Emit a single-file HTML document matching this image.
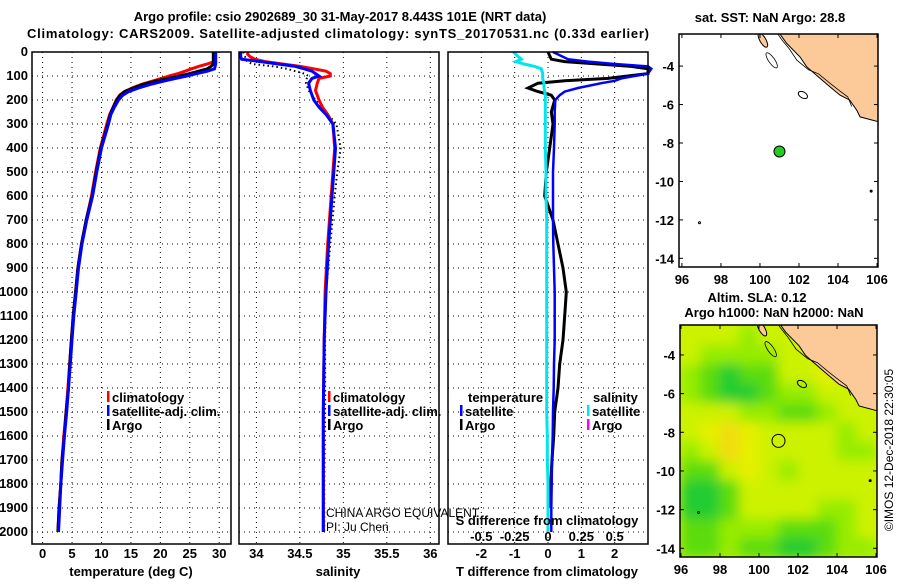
<!DOCTYPE html>
<html><head><meta charset="utf-8"><style>
body{margin:0;background:#fff}
svg text{font-family:"Liberation Sans",sans-serif;font-weight:bold;font-size:13px;fill:#000}
</style></head><body>
<svg id="c" width="900" height="580" viewBox="0 0 900 580" xmlns="http://www.w3.org/2000/svg">
<rect width="900" height="580" fill="#fff"/>
<text x="340" y="21" text-anchor="middle" font-size="14">Argo profile: csio 2902689_30 31-May-2017 8.443S 101E (NRT data)</text>
<text x="338" y="38" text-anchor="middle" font-size="14" textLength="622">Climatology: CARS2009. Satellite-adjusted climatology: synTS_20170531.nc (0.33d earlier)</text>
<g id="g"></g>
</svg>
<script>
// ---------- data ----------
const depthTicks=[0,100,200,300,400,500,600,700,800,900,1000,1100,1200,1300,1400,1500,1600,1700,1800,1900,2000];
const tempTicks=[0,5,10,15,20,25,30];
const salTicks=[34,34.5,35,35.5,36];
const salTickLabels=["34","34.5","35","35.5","36"];
const tdTicks=[-2,-1,0,1,2];
const sdTickLabels=["-0.5","-0.25","0","0.25","0.5"];
const sdTicks=[-0.5,-0.25,0,0.25,0.5];
const lonTicks=[96,98,100,102,104,106];
const latTicks=[-4,-6,-8,-10,-12,-14];

const tDepth=[0,40,50,60,70,80,90,100,110,120,135,150,165,180,200,230,260,300,400,500,600,700,800,900,1000,1100,1200,1300,1400,1500,1600,1700,1800,1900,2000];
const tArgo=[29,29,29,28.6,28,26.5,25,23.3,21.4,19.4,17,15.4,14,13.2,12.6,12,11.5,11.1,9.9,9.1,8.4,7.4,6.6,6.0,5.6,5.2,4.9,4.6,4.4,4.0,3.7,3.3,3.1,2.8,2.6];
const tClim=[29.1,29.1,28,26.5,25.3,24.2,23,21.5,20.2,18.8,16.8,15.2,13.9,13.1,12.5,12.0,11.4,10.9,9.8,9.0,8.3,7.4,6.6,6.0,5.6,5.2,4.9,4.6,4.3,4.0,3.6,3.3,3.1,2.8,2.6];
const tSat=[29.4,29.4,29.4,29.3,29.2,28,26.2,24.5,22.6,20.8,18.3,16.3,14.6,13.6,12.9,12.2,11.6,11.2,10.0,9.2,8.5,7.5,6.7,6.1,5.7,5.3,5.0,4.7,4.4,4.1,3.7,3.4,3.1,2.9,2.7];

const sDepth=[0,10,20,30,40,50,60,70,80,90,100,110,130,160,200,230,260,300,400,500,600,800,1000,1200,1500,1800,2000];
const sArgo=[33.85,33.86,33.87,33.87,33.9,33.95,34.2,34.35,34.45,34.55,34.6,34.58,34.57,34.6,34.68,34.75,34.82,34.92,34.97,34.93,34.9,34.85,34.8,34.79,34.79,34.78,34.78];
const sClim=[33.9,33.9,33.93,33.98,34.1,34.3,34.5,34.66,34.8,34.85,34.85,34.72,34.7,34.68,34.72,34.76,34.82,34.88,34.9,34.88,34.86,34.82,34.79,34.78,34.77,34.77,34.77];
const sSat=[33.82,33.82,33.82,33.83,34.05,34.25,34.45,34.55,34.64,34.68,34.72,34.64,34.6,34.62,34.66,34.72,34.8,34.88,34.91,34.89,34.87,34.83,34.8,34.78,34.77,34.77,34.77];

const dDepth=[0,30,40,50,60,70,90,110,120,130,150,165,180,200,250,300,400,500,600,700,800,900,1000,1100,1200,1300,1400,1500,1600,1700,1800,1900,2000];
const dTArgo=[0,0.1,0.5,1.5,2.5,3,3,1.8,0.5,-0.3,-0.6,-0.3,0.1,0.2,0.1,0.15,0.05,-0.05,-0.1,0.15,0.3,0.45,0.55,0.5,0.45,0.35,0.3,0.2,0.17,0.12,0.08,0.05,null];
const dTSat=[0.15,0.6,1.2,2,3,3.1,3,2.2,2,1.6,0.9,0.5,0.35,0.22,0.2,0.2,0.18,0.15,0.15,0.15,0.16,0.18,0.2,0.2,0.2,0.18,0.17,0.15,0.14,0.12,0.11,0.1,0.1];
const dSSat=[-0.26,-0.2,-0.24,-0.18,-0.1,-0.05,-0.04,-0.04,-0.035,-0.03,-0.03,-0.025,-0.02,-0.02,-0.02,-0.02,-0.02,-0.015,-0.015,-0.01,-0.01,-0.01,-0.01,-0.01,-0.01,-0.01,-0.01,-0.01,-0.005,-0.005,0,0,0];

const coastLon=[101.0,101.37,102.05,102.39,103.08,103.59,104.1,104.6,104.96,105.13,106.1,106.1];
const coastLat=[-2.3,-2.82,-3.52,-4.03,-4.64,-5.08,-5.51,-5.77,-6.29,-6.64,-6.9,-2.3];
const contourLon=[100.9,101.1,101.5,101.9,102.5,103.0,103.6,104.1,104.5,104.7];
const contourLat=[-2.3,-2.6,-3.1,-3.7,-4.2,-4.4,-4.9,-5.3,-5.6,-6.1];
const argoLon=101, argoLat=-8.443;
const slaRows=[
[3,3,3,2,3,3,3,3,3,3],
[3,2,2,2,2,3,3,3,3,3],
[2,1,0,1,1,3,3,4,3,3],
[2,1,0,0,1,2,2,3,3,3],
[3,3,3,2,2,1,1,2,3,3],
[3,4,5,4,3,3,3,3,2,3],
[2,3,5,4,3,3,3,3,2,2],
[1,1,3,4,3,2,3,3,3,3],
[0,0,1,3,3,3,3,3,3,3],
[0,0,1,3,3,3,3,2,2,3],
[1,1,2,2,2,1,1,1,2,3],
[1,1,2,1,1,0,0,1,2,2]];
const slaColors=["#22cc33","#5cdc10","#96ec00","#ccf200","#e6f000","#f2dc10"];

// ---------- helpers ----------
const NS="http://www.w3.org/2000/svg";
const G=document.getElementById('g');
function el(tag,attrs,parent,txt){const e=document.createElementNS(NS,tag);for(const k in attrs)e.setAttribute(k,attrs[k]);if(txt!==undefined)e.textContent=txt;(parent||G).appendChild(e);return e;}
const Y0=52,PY=0.24;
const yD=d=>Y0+d*PY;
const panels=[
 {x0:32,x1:231,d0:-1.8,d1:32},
 {x0:239,x1:439,d0:33.8,d1:36.1},
 {x0:448,x1:648,d0:-3,d1:3}];
function sx(p,v){return p.x0+(v-p.d0)/(p.d1-p.d0)*(p.x1-p.x0);}
const YB=544;

function grid(p,xt,name){
  const g=el('g',{});
  
  
  xt.forEach(v=>el('line',{x1:sx(p,v),x2:sx(p,v),y1:Y0,y2:YB,stroke:'#000','stroke-width':1,'stroke-dasharray':'1,4'},g));
  depthTicks.forEach(d=>el('line',{x1:p.x0,x2:p.x1,y1:yD(d),y2:yD(d),stroke:'#000','stroke-width':1,'stroke-dasharray':'1,4'},g));
}
function frame(p,name){
  const r=el('rect',{x:p.x0,y:Y0,width:p.x1-p.x0,height:YB-Y0,fill:'none',stroke:'#000','stroke-width':1.5});
  
  
}
function line(p,vals,depths,color,w,name,dash){
  let pts=[];
  vals.forEach((v,i)=>{if(v!==null)pts.push(sx(p,v).toFixed(1)+','+yD(depths[i]).toFixed(1));});
  const a={points:pts.join(' '),fill:'none',stroke:color,'stroke-width':w,'stroke-linejoin':'miter'};
  if(dash)a['stroke-dasharray']=dash;
  const e=el('polyline',a);
  
  
}
function txt(x,y,s,opt,name){const a=Object.assign({x:x,y:y},opt||{});const e=el('text',a,G,s);return e;}

grid(panels[0],tempTicks,'temperature');
grid(panels[1],salTicks,'salinity');
grid(panels[2],tdTicks,'difference');
depthTicks.forEach(d=>{
  const t=txt(28,yD(d)+4,String(d),{'text-anchor':'end','font-size':12},'depth-tick-label');
});
line(panels[0],tClim,tDepth,'#ff0000',3,'temperature-climatology-line');
line(panels[0],tArgo,tDepth,'#000',3,'temperature-argo-line');
line(panels[0],tSat,tDepth,'#0000ff',3,'temperature-satellite-line');
tempTicks.forEach(v=>txt(sx(panels[0],v),558,String(v),{'text-anchor':'middle','font-size':12},'temperature-tick-label'));
txt(131,576,'temperature (deg C)',{'text-anchor':'middle'},'temperature-axis-title');
line(panels[1],sArgo,sDepth,'#000',2,'salinity-argo-line','1.5,3');
line(panels[1],sClim,sDepth,'#ff0000',3,'salinity-climatology-line');
line(panels[1],sSat,sDepth,'#0000ff',3,'salinity-satellite-line');
salTicks.forEach((v,i)=>txt(sx(panels[1],v),558,salTickLabels[i],{'text-anchor':'middle','font-size':12},'salinity-tick-label'));
txt(338,576,'salinity',{'text-anchor':'middle'},'salinity-axis-title');
const sToT=v=>v===null?null:v*4;
line(panels[2],dTArgo,dDepth,'#000',3,'temperature-diff-argo-line');
line(panels[2],dTSat,dDepth,'#0000ff',2.5,'temperature-diff-satellite-line');
line(panels[2],dSSat.map(sToT),dDepth,'#00e5ee',3,'salinity-diff-satellite-line');
tdTicks.forEach(v=>txt(sx(panels[2],v),558,String(v),{'text-anchor':'middle','font-size':12},'t-diff-tick-label'));
sdTicks.forEach((v,i)=>txt(sx(panels[2],v*4),541,sdTickLabels[i],{'text-anchor':'middle','font-size':12},'s-diff-tick-label'));
txt(547,525,'S difference from climatology',{'text-anchor':'middle'},'s-diff-axis-title');
txt(547,576,'T difference from climatology',{'text-anchor':'middle'},'t-diff-axis-title');
frame(panels[0],'temperature');frame(panels[1],'salinity');frame(panels[2],'difference');

function leg(x,y,c,s,name){
  const r=el('rect',{x:x,y:y-11,width:2.5,height:11,fill:c});
  
  
  txt(x+5,y,s,{},name);
}
leg(107,402,'#ff0000','climatology','legend-climatology');
leg(107,416,'#0000ff','satellite-adj. clim.','legend-satellite-adj');
leg(107,430,'#000','Argo','legend-argo');
leg(328,402,'#ff0000','climatology','legend-s-climatology');
leg(328,416,'#0000ff','satellite-adj. clim.','legend-s-satellite-adj');
leg(328,430,'#000','Argo','legend-s-argo');
txt(468,402,'temperature',{},'legend-temperature-heading');
leg(460,416,'#0000ff','satellite','legend-t-satellite');
leg(460,430,'#000','Argo','legend-t-argo');
txt(593,402,'salinity',{},'legend-salinity-heading');
leg(587,416,'#00e5ee','satellite','legend-s-satellite');
leg(587,430,'#ff00ff','Argo','legend-s-argo-diff');
txt(326,517,'CHINA ARGO EQUIVALENT',{style:'font-weight:normal;font-size:12px'},'data-centre-label');
txt(326,531,'PI: Ju Chen',{style:'font-weight:normal;font-size:12px'},'pi-label');

function map(m,name,sla){
  const mx=lon=>m.x0+(lon-m.l0)/(m.l1-m.l0)*(m.x1-m.x0);
  const my=lat=>m.y0+(m.t0-lat)/(m.t0-m.t1)*(m.y1-m.y0);
  const g=el('g',{});
  
  
  const cid='clip'+name;
  const cp=el('clipPath',{id:cid},g);el('rect',{x:m.x0,y:m.y0,width:m.x1-m.x0,height:m.y1-m.y0},cp);
  const inner=el('g',{'clip-path':'url(#'+cid+')'},g);
  if(sla){
    el('rect',{x:m.x0,y:m.y0,width:m.x1-m.x0,height:m.y1-m.y0,fill:slaColors[3]},inner);
    const f=el('filter',{id:'blur'+name,x:'-10%',y:'-10%',width:'120%',height:'120%'},g);
    el('feGaussianBlur',{stdDeviation:6},f);
    const hg=el('g',{filter:'url(#blur'+name+')'},inner);
    slaRows.forEach((row,r)=>row.forEach((v,c)=>{
      const lat=-2.5-r, lon=96+c;
      const cell=el('rect',{x:mx(lon)-0.5,y:my(lat)-0.5,width:mx(lon+1)-mx(lon)+1,height:my(lat-1)-my(lat)+1,fill:slaColors[v]},hg);
      
      
    }));
  }
  const land=el('polygon',{points:coastLon.map((l,i)=>mx(l).toFixed(1)+','+my(coastLat[i]).toFixed(1)).join(' '),fill:'#fcc998',stroke:'#000','stroke-width':1},inner);
  
  
  const ct=el('polyline',{points:contourLon.map((l,i)=>mx(l).toFixed(1)+','+my(contourLat[i]).toFixed(1)).join(' '),fill:'none',stroke:'#000','stroke-width':0.8},inner);
  
  
  el('ellipse',{cx:mx(100.15),cy:my(-2.65),rx:3,ry:8,transform:`rotate(-30 ${mx(100.15)} ${my(-2.65)})`,fill:'#fcc998',stroke:'#000','stroke-width':1},inner);
  el('ellipse',{cx:mx(100.6),cy:my(-3.7),rx:3,ry:9,transform:`rotate(-35 ${mx(100.6)} ${my(-3.7)})`,fill:'none',stroke:'#000','stroke-width':0.8},inner);
  el('ellipse',{cx:mx(102.2),cy:my(-5.5),rx:5,ry:3,transform:`rotate(30 ${mx(102.2)} ${my(-5.5)})`,fill:'none',stroke:'#000','stroke-width':1},inner);
  el('circle',{cx:mx(105.7),cy:my(-10.5),r:1.5,fill:'#000'},inner);
  el('circle',{cx:mx(96.9),cy:my(-12.15),r:1,fill:'none',stroke:'#000'},inner);
  const mk=el('circle',{cx:mx(argoLon),cy:my(argoLat),r:sla?6.5:5.5,fill:sla?'none':'#22cc22',stroke:'#000','stroke-width':1},inner);
  
  
  el('rect',{x:m.x0,y:m.y0,width:m.x1-m.x0,height:m.y1-m.y0,fill:'none',stroke:'#000','stroke-width':1.5},g);
  lonTicks.forEach(l=>{
    el('line',{x1:mx(l),x2:mx(l),y1:m.y1,y2:m.y1-4,stroke:'#000'},g);
    el('line',{x1:mx(l),x2:mx(l),y1:m.y0,y2:m.y0+4,stroke:'#000'},g);
    txt(mx(l),m.y1+17,String(l),{'text-anchor':'middle','font-size':12},'lon-tick-label');
  });
  latTicks.forEach(l=>{
    el('line',{x1:m.x0,x2:m.x0+4,y1:my(l),y2:my(l),stroke:'#000'},g);
    el('line',{x1:m.x1,x2:m.x1-4,y1:my(l),y2:my(l),stroke:'#000'},g);
    txt(m.x0-5,my(l)+5,String(l),{'text-anchor':'end','font-size':12},'lat-tick-label');
  });
}
map({x0:679,x1:878,y0:34,y1:267,l0:95.85,l1:106.05,t0:-2.33,t1:-14.45},'sst-map',false);
map({x0:680,x1:877,y0:325,y1:557,l0:95.95,l1:106.05,t0:-2.45,t1:-14.45},'sla-map',true);
txt(770,22,'sat. SST: NaN Argo: 28.8',{'text-anchor':'middle','font-size':12},'sst-map-title');
txt(757,302,'Altim. SLA: 0.12',{'text-anchor':'middle','font-size':12},'sla-map-title');
txt(774,317,'Argo h1000: NaN h2000: NaN',{'text-anchor':'middle','font-size':12},'sla-map-subtitle');
txt(893,450,'©IMOS 12-Dec-2018 22:30:05',{'text-anchor':'middle',style:'font-weight:normal;font-size:12px',transform:'rotate(-90 893 450)'},'copyright-timestamp');
</script>
</body></html>
